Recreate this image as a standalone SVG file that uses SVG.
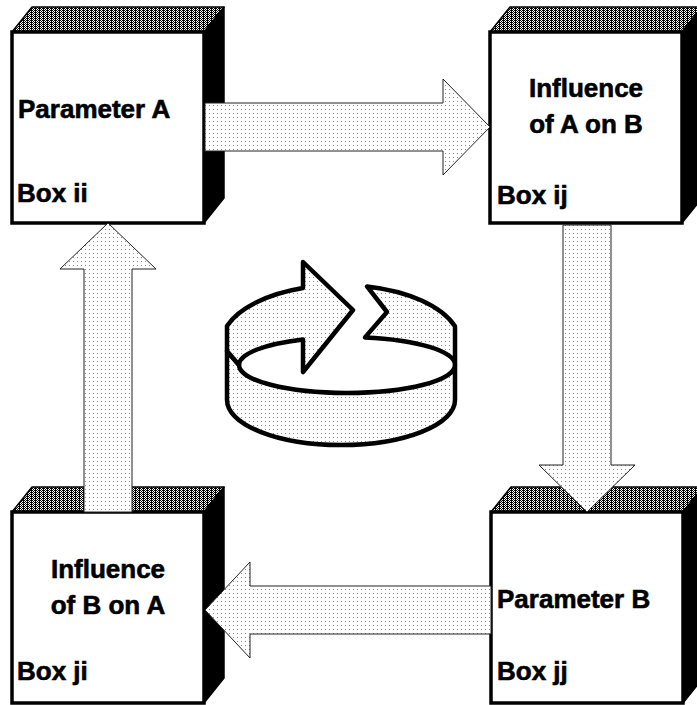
<svg xmlns="http://www.w3.org/2000/svg" width="697" height="705" viewBox="0 0 697 705">
<defs>
<pattern id="dots" width="4" height="4" patternUnits="userSpaceOnUse"><rect width="4" height="4" fill="#fff"/><rect x="1" y="1" width="1" height="1" fill="#8c8c8c"/></pattern>
<pattern id="dither" width="4" height="2" patternUnits="userSpaceOnUse"><rect width="4" height="2" fill="#fff"/><rect x="0" y="0" width="1" height="1" fill="#000"/><rect x="2" y="0" width="2" height="1" fill="#000"/><rect x="1" y="1" width="1" height="1" fill="#000"/><rect x="3" y="1" width="1" height="1" fill="#000"/></pattern>
<style>
.top{fill:url(#dither);stroke:#000;stroke-width:1.5;stroke-linejoin:round}
.side{fill:#000;stroke:#000;stroke-width:1.5;stroke-linejoin:round}
.front{fill:#fff;stroke:#000;stroke-width:3.5}
.lbl{font-family:"Liberation Sans",Arial,sans-serif;font-weight:bold;font-size:26px;fill:#000;stroke:#000;stroke-width:0.6}
.mid{text-anchor:middle}
.arrow{fill:url(#dots);stroke:#222;stroke-width:1;stroke-linejoin:miter}
.icon{fill:url(#dots);stroke:#000;stroke-width:4.5;stroke-linejoin:round}
</style>
</defs>
<rect width="697" height="705" fill="#fff"/>
<g id="box-ii">
<polygon class="top" points="12,32 32,7 224,7 204,32"/>
<polygon class="side" points="204,32 224,7 224,198 204,223"/>
<rect class="front" x="12" y="32" width="192" height="191"/>
<text class="lbl" x="18" y="118">Parameter A</text>
<text class="lbl" x="17" y="202">Box ii</text>
</g>
<g id="box-ij">
<polygon class="top" points="490,32 510,7 702,7 682,32"/>
<polygon class="side" points="682,32 702,7 702,198 682,223"/>
<rect class="front" x="490" y="32" width="192" height="191"/>
<text class="lbl mid" x="586" y="97">Influence</text>
<text class="lbl mid" x="586" y="133">of A on B</text>
<text class="lbl" x="497" y="204">Box ij</text>
</g>
<g id="box-ji">
<polygon class="top" points="12,512 32,487 224,487 204,512"/>
<polygon class="side" points="204,512 224,487 224,678 204,703"/>
<rect class="front" x="12" y="512" width="192" height="191"/>
<text class="lbl mid" x="108" y="578">Influence</text>
<text class="lbl mid" x="108" y="614">of B on A</text>
<text class="lbl" x="17" y="680">Box ji</text>
</g>
<g id="box-jj">
<polygon class="top" points="491,512 511,487 703,487 683,512"/>
<polygon class="side" points="683,512 703,487 703,678 683,703"/>
<rect class="front" x="491" y="512" width="192" height="191"/>
<text class="lbl" x="497" y="608">Parameter B</text>
<text class="lbl" x="497" y="680">Box jj</text>
</g>
<g id="connectors">
<polygon class="arrow" points="205,103 443,103 443,79 490,127 443,175 443,151 205,151"/>
<polygon class="arrow" points="563,225 611,225 611,465 635,465 587,512 539,465 563,465"/>
<polygon class="arrow" points="491,586 250,586 250,562 205,610 250,658 250,634 491,634"/>
<polygon class="arrow" points="84,512 84,269 60,269 108,223 156,269 132,269 132,512"/>
</g>
<g id="cycle">
<path class="icon" d="M227,351 L227,400 A114,45 0 0 0 455,400 L455,365 A108,28 0 0 1 239,365 Z"/>
<path class="icon" d="M227,351 L227,326 A120,60 0 0 1 303,288 L303,262 L353,310 L303,372 L303,339.4 A108,28 0 0 0 239,365 Z"/>
<path class="icon" d="M367,286.4 A120,60 0 0 1 455,326.3 L455,365 A108,28 0 0 0 365,337.4 L387,312 Z"/>
</g>
</svg>
